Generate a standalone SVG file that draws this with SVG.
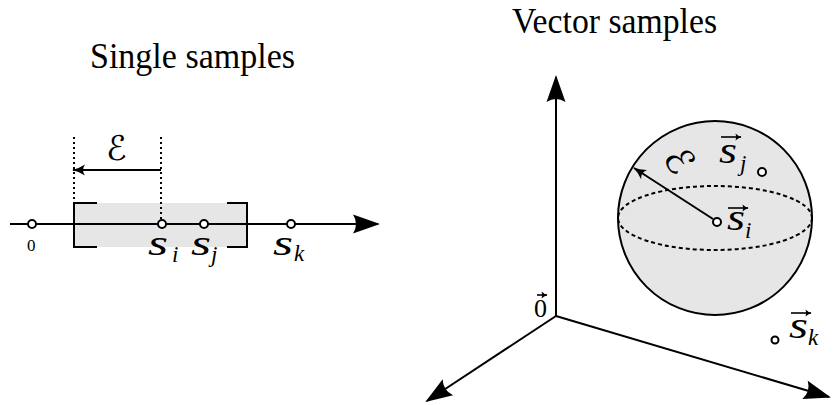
<svg xmlns="http://www.w3.org/2000/svg" width="833" height="405" viewBox="0 0 833 405">
<style>
.title{font-family:"Liberation Serif",serif;font-size:35px;fill:#000}
.m{font-family:"Liberation Serif",serif;font-style:italic;fill:#000}
.up{font-family:"Liberation Serif",serif;fill:#000}
.cal{font-family:"DejaVu Serif","DejaVu Sans",serif;fill:#000}
.ln{stroke:#000;stroke-width:2;fill:none}
.pt{fill:#fff;stroke:#000;stroke-width:2}
.vec{stroke:#000;stroke-width:1.6;fill:none}
</style>
<defs>
<marker id="big" markerUnits="userSpaceOnUse" viewBox="-27 -11 30 22" markerWidth="30" markerHeight="22" refX="0" refY="0" orient="auto">
<path d="M2,0 L-25,-9.5 Q-19,0 -25,9.5 Z" fill="#000"/>
</marker>
<marker id="sm" markerUnits="userSpaceOnUse" viewBox="-14 -7 16 14" markerWidth="16" markerHeight="14" refX="0" refY="0" orient="auto">
<path d="M1,0 Q-6,-1.5 -12,-5.5 Q-8,0 -12,5.5 Q-6,1.5 1,0 Z" fill="#000"/>
</marker>
<marker id="va" markerUnits="userSpaceOnUse" viewBox="-7 -4 8 8" markerWidth="8" markerHeight="8" refX="0" refY="0" orient="auto">
<path d="M0.5,0 Q-3,-1 -5.5,-3.5 Q-4,0 -5.5,3.5 Q-3,1 0.5,0 Z" fill="#000"/>
</marker>
</defs>

<text class="title" x="90" y="68" textLength="205" lengthAdjust="spacingAndGlyphs">Single samples</text>
<text class="title" x="512" y="33" textLength="205" lengthAdjust="spacingAndGlyphs">Vector samples</text>

<g id="interval">
<rect x="74" y="203" width="173" height="44" fill="#e6e6e6"/>
<path class="ln" d="M97,203 H74 V247 H97"/>
<path class="ln" d="M227,203 H247 V247 H227"/>
</g>

<g id="connectors">
<path class="ln" d="M10,224 H378" marker-end="url(#big)"/>
<path d="M74,137 V203" stroke="#000" stroke-width="2" stroke-dasharray="2,3" fill="none"/>
<path d="M161,137 V219" stroke="#000" stroke-width="2" stroke-dasharray="2,3" fill="none"/>
<path class="ln" d="M161,170 H73" marker-end="url(#sm)"/>
<path class="ln" d="M556,316 V77" marker-end="url(#big)"/>
<path class="ln" d="M556,316 L427,401" marker-end="url(#big)"/>
<path class="ln" d="M556,316 L829,397" marker-end="url(#big)"/>
</g>

<text class="cal" x="106" y="160" font-size="34">ℰ</text>

<g id="p0"><circle class="pt" cx="32" cy="224" r="4"/><text class="up" x="27" y="251" font-size="17">0</text></g>
<g id="psi"><circle class="pt" cx="162" cy="224" r="4"/><text class="m" x="148" y="255" font-size="36" textLength="20" lengthAdjust="spacingAndGlyphs">s</text><text class="m" x="172" y="262" font-size="23">i</text></g>
<g id="psj"><circle class="pt" cx="204" cy="224" r="4"/><text class="m" x="191" y="255" font-size="36" textLength="20" lengthAdjust="spacingAndGlyphs">s</text><text class="m" x="211" y="262" font-size="23">j</text></g>
<g id="psk"><circle class="pt" cx="291" cy="224" r="4"/><text class="m" x="273" y="255" font-size="36" textLength="20" lengthAdjust="spacingAndGlyphs">s</text><text class="m" x="294" y="261" font-size="23">k</text></g>

<g id="sphere">
<circle cx="715" cy="218" r="97" fill="#e6e6e6" stroke="#000" stroke-width="2"/>
<ellipse cx="715" cy="218" rx="97" ry="32" fill="none" stroke="#000" stroke-width="2" stroke-dasharray="4,3"/>
</g>

<path class="ln" d="M713,219 L634,168" marker-end="url(#sm)"/>
<text class="cal" font-size="38" transform="translate(662,158) rotate(57)">ℰ</text>

<g id="vsi"><circle class="pt" cx="717" cy="222" r="4"/>
<text class="m" x="727" y="230" font-size="38" textLength="18" lengthAdjust="spacingAndGlyphs">s</text>
<path class="vec" d="M728,208 H748" marker-end="url(#va)"/>
<text class="m" x="745" y="238" font-size="23">i</text></g>

<g id="vsj"><circle class="pt" cx="762" cy="172" r="4"/>
<text class="m" x="719" y="163" font-size="38" textLength="18" lengthAdjust="spacingAndGlyphs">s</text>
<path class="vec" d="M721,137 H741" marker-end="url(#va)"/>
<text class="m" x="740" y="171" font-size="23">j</text></g>

<g id="vsk"><circle class="pt" cx="775" cy="340" r="3.5"/>
<text class="m" x="789" y="338" font-size="38" textLength="19" lengthAdjust="spacingAndGlyphs">s</text>
<path class="vec" d="M791,313 H811" marker-end="url(#va)"/>
<text class="m" x="808" y="345" font-size="23">k</text></g>

<g id="origin">
<text class="up" x="534" y="317" font-size="26">0</text>
<path class="vec" d="M537,295 H547" marker-end="url(#va)"/>
</g>
</svg>
